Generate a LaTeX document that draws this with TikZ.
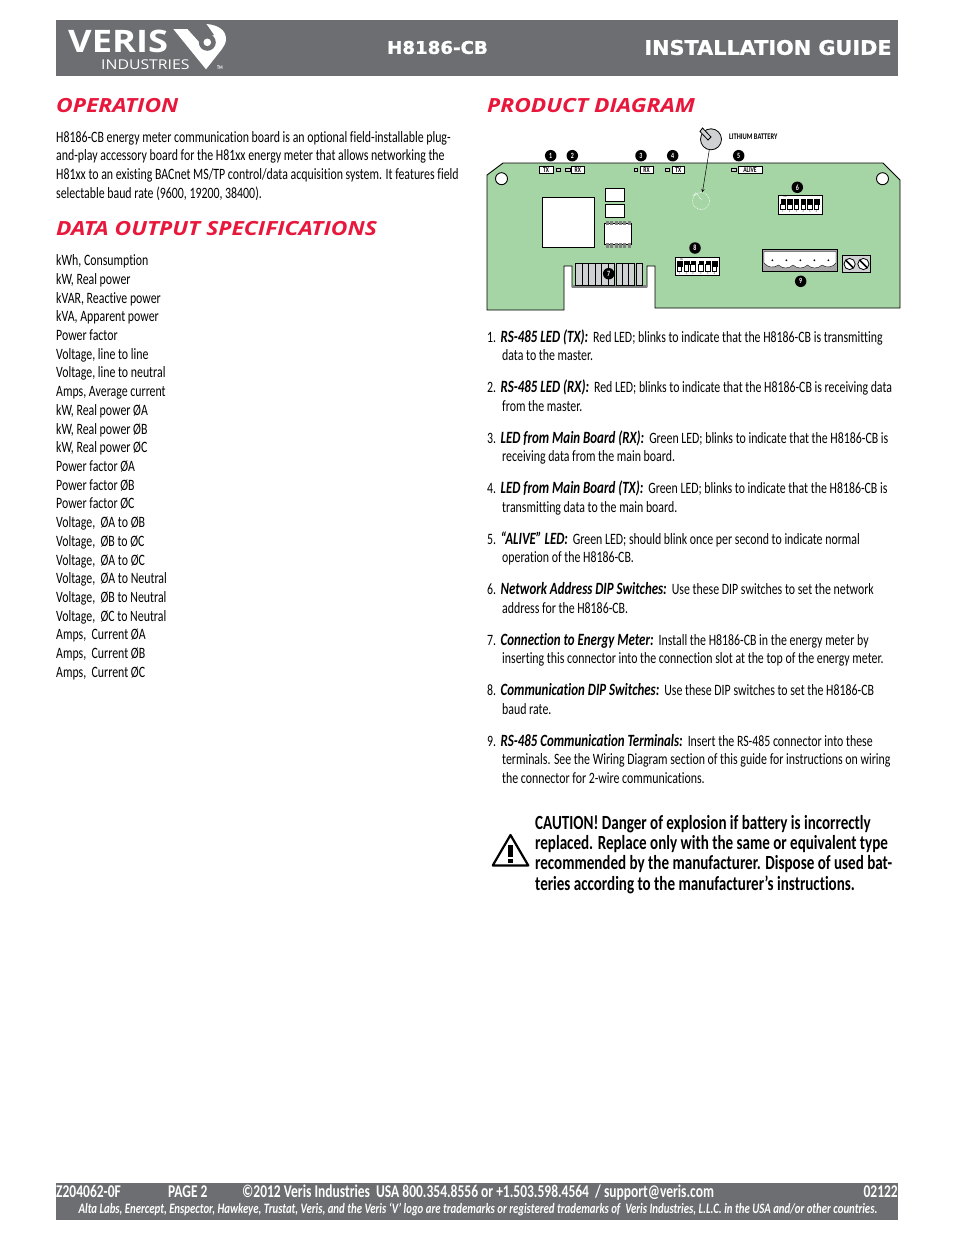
\documentclass[tikz,border=0pt]{standalone}
\usepackage{fontspec}
\setmainfont[FakeStretch=0.75,RawFeature={-liga}]{Carlito}
\newfontfamily\headfont[FakeStretch=1.17]{Open Sans}
\newfontfamily\widefont[FakeBold=1.2,FakeStretch=1.04]{DejaVu Sans}
\usepackage{tikz}
\definecolor{verisgray}{HTML}{6D6E71}
\definecolor{verisred}{HTML}{E8173C}
\definecolor{boardgreen}{HTML}{A6D5A5}
\definecolor{partgray}{HTML}{CFD1D2}
\newcommand{\lead}[1]{{\fontsize{17.2}{18}\selectfont\bfseries\itshape #1}\hspace{5pt}}
\tikzset{
	body/.style={anchor=base west,yshift=-5.4pt,inner sep=0pt,font=\fontsize{15.8}{18}\selectfont},
	heading/.style={anchor=base west,yshift=-7.6pt,inner sep=0pt,text=verisred,font=\headfont\fontsize{19.5}{22}\selectfont\bfseries\itshape},
	caution/.style={anchor=base west,yshift=-6pt,inner sep=0pt,font=\fontsize{20.1}{22}\selectfont\bfseries},
	foot/.style={anchor=base west,yshift=-5.2pt,inner sep=0pt,text=white,font=\fontsize{18}{20}\selectfont\bfseries},
	num/.style={circle,fill=black,text=white,inner sep=0pt,minimum size=11.5pt,font=\fontsize{8}{8}\selectfont\bfseries},
	tag/.style={draw,fill=white,inner sep=0pt,minimum height=7.3pt,font=\fontsize{7.5}{7}\selectfont\bfseries},
	led/.style={draw,fill=partgray,inner sep=0pt,minimum width=3.5pt,minimum height=3.5pt},
	tiny/.style={inner sep=0pt,font=\fontsize{2.8}{3}\selectfont},
	part/.style={draw,fill=white,line width=0.9pt}
}
\begin{document}
\begin{tikzpicture}[x=1pt,y=-1pt]
		\useasboundingbox (0,0) rectangle (954,1235);
		% header band
		\fill[verisgray] (56,20) rectangle (898,76);
		\node (veris) at (68,41)[anchor=west,inner sep=0pt,text=white,font=\headfont\fontsize{31}{31}\selectfont\bfseries]{VERIS};
		\node (industries) at (101,64.5)[anchor=west,inner sep=0pt,text=white,font=\headfont\fontsize{13.5}{14}\selectfont]{INDUSTRIES};
		\fill[white] (173.3,29) -- (187.3,29) -- (200,43) -- (206.7,24) .. controls (218,25) and (226,30) .. (226,39) .. controls (226,43) and (224,46) .. (222,49) -- (206,69.3) -- cycle;
		\fill[verisgray] (207.3,42.3) circle (8.5);
		\fill[verisgray] (199,30) -- (206.7,24.5) -- (214,35) -- (203,38) -- cycle;
		\fill[white] (207.3,42.3) circle (3.8);
		\node (tm) at (220,67.5)[inner sep=0pt,text=white,font=\fontsize{5.5}{5}\selectfont\bfseries]{TM};
		\node (model) at (437.5,47.5)[inner sep=0pt,text=white,font=\widefont\fontsize{17.5}{20}\selectfont\bfseries]{H8186-CB};
		\node (guide) at (768,47.5)[inner sep=0pt,text=white,font=\widefont\fontsize{20}{22}\selectfont\bfseries]{INSTALLATION GUIDE};
		% left column
		\node (operation) at (56,105)[heading]{OPERATION};
		\node (opa) at (56,137)[body]{H8186-CB energy meter communication board is an optional field-installable plug-};
		\node (opb) at (56,155.5)[body]{and-play accessory board for the H81xx energy meter that allows networking the};
		\node (opc) at (56,174)[body]{H81xx to an existing BACnet MS/TP control/data acquisition system. It features field};
		\node (opd) at (56,193)[body]{selectable baud rate (9600, 19200, 38400).};
		\node (dataspec) at (56,228)[heading]{DATA OUTPUT SPECIFICATIONS};
		\node (da) at (56,260)[body]{kWh, Consumption};
		\node (db) at (56,279)[body]{kW, Real power};
		\node (dc) at (56,298)[body]{kVAR, Reactive power};
		\node (dd) at (56,316)[body]{kVA, Apparent power};
		\node (de) at (56,335)[body]{Power factor};
		\node (df) at (56,354)[body]{Voltage, line to line};
		\node (dg) at (56,372)[body]{Voltage, line to neutral};
		\node (dh) at (56,391)[body]{Amps, Average current};
		\node (di) at (56,410)[body]{kW, Real power ØA};
		\node (dj) at (56,429)[body]{kW, Real power ØB};
		\node (dk) at (56,447)[body]{kW, Real power ØC};
		\node (dl) at (56,466)[body]{Power factor ØA};
		\node (dm) at (56,485)[body]{Power factor ØB};
		\node (dn) at (56,503)[body]{Power factor ØC};
		\node (do) at (56,522)[body]{Voltage,\ \ ØA to ØB};
		\node (dp) at (56,541)[body]{Voltage,\ \ ØB to ØC};
		\node (dq) at (56,560)[body]{Voltage,\ \ ØA to ØC};
		\node (dr) at (56,578)[body]{Voltage,\ \ ØA to Neutral};
		\node (ds) at (56,597)[body]{Voltage,\ \ ØB to Neutral};
		\node (dt) at (56,616)[body]{Voltage,\ \ ØC to Neutral};
		\node (du) at (56,634)[body]{Amps,\ \ Current ØA};
		\node (dv) at (56,653)[body]{Amps,\ \ Current ØB};
		\node (dw) at (56,672)[body]{Amps,\ \ Current ØC};
		% right column
		\node (product) at (487,105)[heading]{PRODUCT DIAGRAM};
		\draw[fill=boardgreen,line width=0.9pt] (503,163) -- (487,175) -- (487,310) -- (564,310) -- (564,266) -- (572,266) -- (572,287) -- (647,287) -- (647,266) -- (655,266) -- (655,308) -- (900,308) -- (900,180) -- (883,163) -- cycle;
		\draw[part] (501.5,178.7) circle (6);
		\draw[part] (882.5,178.7) circle (6);
		\draw[part] (542.3,197.3) rectangle (594.7,247.7);
		\draw[part] (605.3,188.3) rectangle (624.7,201.3);
		\draw[part] (605.3,204.3) rectangle (624.7,217.7);
		\draw[part] (604.3,223.3) rectangle (631.7,244.7);
		\foreach \xpos in {607.5,611.8,616.1,620.4,624.7,629}{
			\fill[gray] (\xpos-1.5,221.3) rectangle (\xpos+1.5,225.3);
			\fill[gray] (\xpos-1.5,243.3) rectangle (\xpos+1.5,247.7);
		}
		% edge connector
		\fill[gray] (572,285) rectangle (647,287.5);
		\foreach \xa/\xb in {575.3/582,582/588.7,588.7/595.3,595.3/601.7,601.7/608.3,608.3/614.7,616.3/622.3,622.3/628.7,628.7/634.7,636.3/642}{
			\draw[fill=partgray,line width=0.8pt] (\xa,263.3) rectangle (\xb,285.7);
		}
		% status leds
		\node (txtag) at (546,169.7)[tag,minimum width=13.4pt]{TX};
		\node (leda) at (558,169.8)[led]{};
		\node (ledb) at (567.5,169.8)[led,minimum width=4.5pt]{};
		\node (rxtag) at (577.8,169.7)[tag,minimum width=13.7pt]{RX};
		\node (ledc) at (635.8,169.8)[led]{};
		\node (rxmain) at (646.5,169.7)[tag,minimum width=12.4pt]{RX};
		\node (ledd) at (667.2,169.8)[led,minimum width=4.3pt]{};
		\node (txmain) at (678.3,169.7)[tag,minimum width=12pt]{TX};
		\node (lede) at (733.5,169.8)[led,minimum width=5pt]{};
		\node (alive) at (750,169.7)[tag,minimum width=23.4pt]{ALIVE};
		% battery
		\node (battery) at (711,139.3)[circle,draw,fill=partgray,inner sep=0pt,minimum size=21pt,line width=0.8pt]{};
		\draw[fill=partgray,line width=0.8pt] (700,131.5) -- (702.5,128) -- (711,137) -- (708,140) -- cycle;
		\node (cellghost) at (701,201)[circle,draw=white,densely dotted,inner sep=0pt,minimum size=17pt,line width=0.7pt]{};
		\draw[white,densely dotted,line width=0.7pt] (693,196) -- (695.5,192.5) -- (702,200);
		\node (lithium) at (729,137)[anchor=west,inner sep=0pt,font=\fontsize{8.6}{9}\selectfont\bfseries]{LITHIUM BATTERY};
		\draw[-stealth,line width=0.5pt] (battery) -- (cellghost);
		% dip switches, 6
		\draw[part] (778.3,195.3) rectangle (822.7,214.3);
		\node (dipaon) at (785,197)[tiny]{ON};
		\foreach \xpos/\nr in {783/1,789.7/2,796.4/3,803.1/4,809.8/5,816.5/6}{
			\draw[fill=black,line width=0.4pt] (\xpos-2.2,199) rectangle (\xpos+2.2,204.5);
			\draw[fill=white,line width=0.7pt] (\xpos-2.2,204.5) rectangle (\xpos+2.2,209.5);
			\node (dipa\nr) at (\xpos,211.7)[tiny]{\nr};
		}
		% dip switches, 8
		\draw[part] (675,257.3) rectangle (719.7,275.3);
		\node (dipbon) at (681.5,259.3)[tiny]{ON};
		\foreach \xpos/\nr/\ysplit in {679.5/1/266.5,686.5/2/264,693/3/264,701/4/264,708/5/264,714.5/6/266.5}{
			\draw[fill=black,line width=0.4pt] (\xpos-2.2,261.3) rectangle (\xpos+2.2,\ysplit);
			\draw[fill=white,line width=0.7pt] (\xpos-2.2,\ysplit) rectangle (\xpos+2.2,271.3);
			\node (dipb\nr) at (\xpos,273.3)[tiny]{\nr};
		}
		% terminals
		\draw[fill=gray!70,line width=0.9pt] (762.3,249.7) rectangle (837.7,271.7);
		\draw[fill=white,line width=0.4pt] (764,251.5) -- (836,251.5) -- (836,263) to[bend left=45] (822,265) to[bend left=45] (807.5,265) to[bend left=45] (793,265) to[bend left=45] (778.5,265) to[bend left=45] (764,263) -- cycle;
		\foreach \xpos in {772.3,786.3,800.3,814.3,828.3}{
			\fill (\xpos,260.3) circle (1);
		}
		\draw[fill=partgray,line width=0.8pt] (842.3,255.3) rectangle (870.7,272.7);
		\foreach \xpos in {849.6,863.4}{
			\draw[fill=white,line width=0.8pt] (\xpos,264) circle (5.6);
			\draw[line width=1.6pt] (\xpos-3.9,260.1) -- (\xpos+3.9,267.9);
		}
		% callouts
		\node (numa) at (550.7,155.7)[num]{1};
		\node (numb) at (572.3,155.7)[num]{2};
		\node (numc) at (641,155.7)[num]{3};
		\node (numd) at (672.7,155.7)[num]{4};
		\node (nume) at (738.7,155.7)[num]{5};
		\node (numf) at (797.3,187.3)[num]{6};
		\node (numg) at (608.7,273.7)[num]{7};
		\node (numh) at (695,248)[num]{8};
		\node (numi) at (800.7,281.3)[num]{9};
		% numbered notes
		\node (la) at (487,337)[body]{1.\hspace{4.5pt}\lead{RS-485 LED (TX):}Red LED; blinks to indicate that the H8186-CB is transmitting};
		\node (laa) at (502,355)[body]{data to the master.};
		\node (lb) at (487,387)[body]{2.\hspace{4.5pt}\lead{RS-485 LED (RX):}Red LED; blinks to indicate that the H8186-CB is receiving data};
		\node (lbb) at (502,406)[body]{from the master.};
		\node (lc) at (487,438)[body]{3.\hspace{4.5pt}\lead{LED from Main Board (RX):}Green LED; blinks to indicate that the H8186-CB is};
		\node (lcc) at (502,456)[body]{receiving data from the main board.};
		\node (ld) at (487,488)[body]{4.\hspace{4.5pt}\lead{LED from Main Board (TX):}Green LED; blinks to indicate that the H8186-CB is};
		\node (ldd) at (502,507)[body]{transmitting data to the main board.};
		\node (le) at (487,539)[body]{5.\hspace{4.5pt}\lead{“ALIVE” LED:}Green LED; should blink once per second to indicate normal};
		\node (lee) at (502,557)[body]{operation of the H8186-CB.};
		\node (lf) at (487,589)[body]{6.\hspace{4.5pt}\lead{Network Address DIP Switches:}Use these DIP switches to set the network};
		\node (lff) at (502,608)[body]{address for the H8186-CB.};
		\node (lg) at (487,640)[body]{7.\hspace{4.5pt}\lead{Connection to Energy Meter:}Install the H8186-CB in the energy meter by};
		\node (lgg) at (502,658)[body]{inserting this connector into the connection slot at the top of the energy meter.};
		\node (lh) at (487,690)[body]{8.\hspace{4.5pt}\lead{Communication DIP Switches:}Use these DIP switches to set the H8186-CB};
		\node (lhh) at (502,709)[body]{baud rate.};
		\node (li) at (487,741)[body]{9.\hspace{4.5pt}\lead{RS-485 Communication Terminals:}Insert the RS-485 connector into these};
		\node (lii) at (502,759)[body]{terminals. See the Wiring Diagram section of this guide for instructions on wiring};
		\node (liii) at (502,778)[body]{the connector for 2-wire communications.};
		% caution
		\draw[line width=2.2pt,line join=round,fill=white] (510.5,835) -- (492.7,865.5) -- (528.3,865.5) -- cycle;
		\fill (507.8,845) rectangle (512.6,857);
		\fill (507.8,859.3) rectangle (512.6,863.3);
		\node (cautiona) at (535,823)[caution]{CAUTION! Danger of explosion if battery is incorrectly};
		\node (cautionb) at (535,843.5)[caution]{replaced. Replace only with the same or equivalent type};
		\node (cautionc) at (535,863.5)[caution]{recommended by the manufacturer. Dispose of used bat-};
		\node (cautiond) at (535,884.5)[caution]{teries according to the manufacturer’s instructions.};
		% footer band
		\fill[verisgray] (56,1183) rectangle (898,1220);
		\node (docnr) at (56,1192)[foot]{Z204062-0F};
		\node (page) at (168,1192)[foot]{PAGE 2};
		\node (contact) at (242,1192)[foot]{©2012 Veris Industries\ \ USA 800.354.8556 or +1.503.598.4564\ \ / support@veris.com};
		\node (date) at (898,1192)[foot,anchor=base east]{02122};
		\node (marks) at (478,1213.8)[anchor=base,inner sep=0pt,text=white,font=\fontsize{14.4}{15}\selectfont\itshape\bfseries]{Alta Labs, Enercept, Enspector, Hawkeye, Trustat, Veris, and the Veris ‘V’ logo are trademarks or registered trademarks of\ \ Veris Industries, L.L.C. in the USA and/or other countries.};
	\end{tikzpicture}
\end{document}
